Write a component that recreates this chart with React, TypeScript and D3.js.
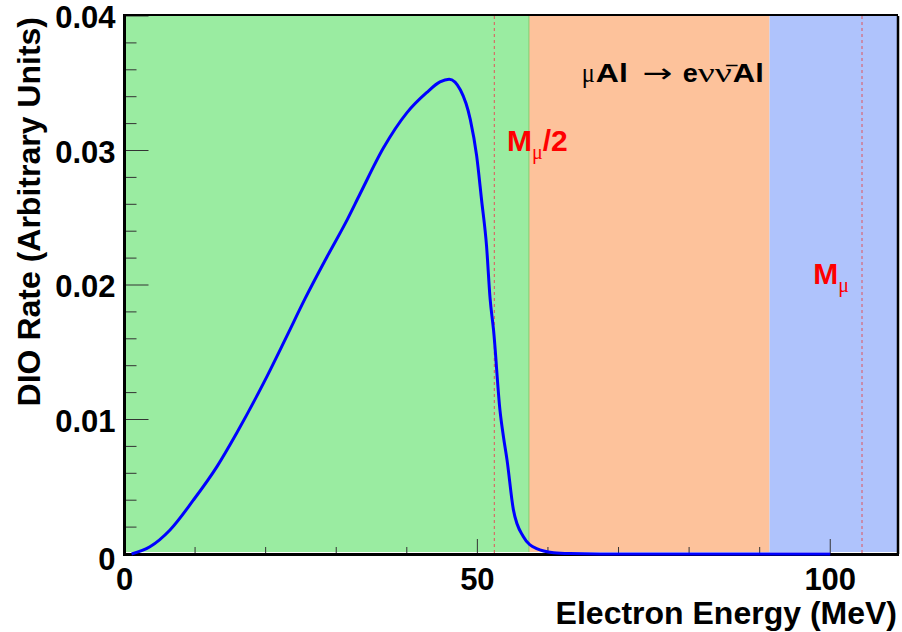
import * as d3 from 'd3';

// DIO spectrum
const energy = [1.0, 3.6, 6.45, 9.75, 13.1, 15.9, 19.7, 23.0, 25.6, 28.7, 31.6, 33.4, 36.7, 40.0, 42.8, 44.7, 46.0, 47.6, 49.0, 49.9, 50.6, 51.3, 51.8, 52.3, 53.2, 53.7, 54.2, 55.1, 56.5, 58.4, 60.8, 63.1, 67.4, 100];
const rate = [0, 0.00054, 0.00179, 0.004, 0.0065, 0.009, 0.0127, 0.0162, 0.019, 0.0221, 0.0249, 0.0268, 0.0302, 0.0328, 0.0343, 0.0351, 0.0353, 0.0345, 0.0323, 0.0296, 0.0263, 0.0229, 0.019, 0.0166, 0.0107, 0.0087, 0.007, 0.0033, 0.0013, 0.0004, 0.0001, 0.00003, 0, 0];

const regionStart = [0, 57.3, 91.4];
const regionEnd = [57.3, 91.4, 109.6];
const regionColors = ['#9aeca1', '#fdc29b', '#afc3fc'];

const markerLines = [52.4, 104.5];

const xMajorTicks = [0, 50, 100];
const yMajorTicks = [0, 0.01, 0.02, 0.03, 0.04];
const yTickLabels = ['0', '0.01', '0.02', '0.03', '0.04'];

// process label pieces: text, font kind, offset from start (px), width (px)
const processText = ['μ', 'Al', '→', 'e', 'νν̄', 'Al'];
const processKind = ['greek', 'bold', 'arrow', 'bold', 'greek', 'bold'];
const processOffset = [0, 14, 61, 101, 116, 151];
const processWidth = [13, 32, 30, 15, 34, 31];

const W = 902;
const H = 632;
const margin = { top: 16, right: 4, bottom: 78, left: 124.5 };
const font = '"Liberation Sans", Arial, sans-serif';
const greek = '"Liberation Serif", "DejaVu Serif", serif';

export default function App(): JSX.Element {
  const x = d3.scaleLinear()
    .domain([0, 109.6])
    .range([margin.left, W - margin.right]);
  const y = d3.scaleLinear()
    .domain([0, 0.04])
    .range([H - margin.bottom, margin.top]);

  const points = energy.map((e, i) => [e, rate[i]] as [number, number]);
  const line = d3.line<[number, number]>()
    .x(d => x(d[0]))
    .y(d => y(d[1]))
    .curve(d3.curveMonotoneX);

  const x0 = x(0);
  const y0 = y(0);
  const xEnd = x(109.6);
  const yTop = y(0.04);

  const xMinor = d3.range(0, 110, 10).filter(t => t % 50 !== 0);
  const yMinor = d3.range(0, 41, 2).map(v => v / 1000).filter((_, i) => i % 5 !== 0);

  const procX = x(64.8);
  const procY = y(0.0351);

  return (
    <svg width={W} height={H} style={{ position: 'absolute', left: 0, top: 0, background: '#fff' }}>
      {regionStart.map((s, i) => (
        <rect
          key={i}
          x={x(s)}
          y={yTop}
          width={x(regionEnd[i]) - x(s)}
          height={y0 - yTop - 2}
          fill={regionColors[i]}
        />
      ))}
      <line x1={x(regionEnd[0])} x2={x(regionEnd[0])} y1={yTop} y2={y0 - 2} stroke="#7ccf6e" strokeWidth={1} />

      {markerLines.map(m => (
        <line key={m} x1={x(m)} x2={x(m)} y1={yTop} y2={y0} stroke="#e0545c" strokeWidth={1} strokeDasharray="3,3" />
      ))}

      {/* ticks */}
      {yMajorTicks.map(t => (
        <line key={'ym' + t} x1={x0} x2={x0 + 24} y1={y(t)} y2={y(t)} stroke="#333" strokeWidth={1} />
      ))}
      {yMinor.map(t => (
        <line key={'yn' + t} x1={x0} x2={x0 + 12} y1={y(t)} y2={y(t)} stroke="#333" strokeWidth={1} />
      ))}
      {xMajorTicks.map(t => (
        <line key={'xm' + t} x1={x(t)} x2={x(t)} y1={y0} y2={y0 - 15} stroke="#333" strokeWidth={1} />
      ))}
      {xMinor.map(t => (
        <line key={'xn' + t} x1={x(t)} x2={x(t)} y1={y0} y2={y0 - 7} stroke="#333" strokeWidth={1} />
      ))}

      {/* frame */}
      <line x1={x0} x2={xEnd} y1={yTop - 1} y2={yTop - 1} stroke="#000" strokeWidth={2} />
      <line x1={xEnd} x2={xEnd} y1={yTop} y2={y0} stroke="#000" strokeWidth={2.5} />
      <line x1={x0} x2={xEnd + 1} y1={y0 + 0.5} y2={y0 + 0.5} stroke="#000" strokeWidth={3} />
      <line x1={x0} x2={x0} y1={yTop - 2} y2={y0 + 2} stroke="#000" strokeWidth={3} />

      <path d={line(points) || ''} fill="none" stroke="#0000ff" strokeWidth={3} />

      {/* tick labels */}
      {yMajorTicks.map((t, i) => (
        <text
          key={'yl' + t}
          x={x0 - 9}
          y={y(t) + 12 + (t === 0 ? 4 : 0)}
          textAnchor="end"
          fontFamily={font}
          fontWeight="bold"
          fontSize={31}
        >
          {yTickLabels[i]}
        </text>
      ))}
      {xMajorTicks.map(t => (
        <text
          key={'xl' + t}
          x={x(t)}
          y={590}
          textAnchor="middle"
          fontFamily={font}
          fontWeight="bold"
          fontSize={31}
        >
          {t}
        </text>
      ))}

      {/* axis titles */}
      <text x={897} y={624} textAnchor="end" fontFamily={font} fontWeight="bold" fontSize={32}>
        Electron Energy (MeV)
      </text>
      <text
        transform={`translate(40,${yTop + 1}) rotate(-90)`}
        textAnchor="end"
        fontFamily={font}
        fontWeight="bold"
        fontSize={32}
      >
        DIO Rate (Arbitrary Units)
      </text>

      {/* annotations */}
      {processText.map((s, i) => (
        <text
          key={'p' + i}
          x={procX + processOffset[i]}
          y={procY}
          textLength={processWidth[i]}
          lengthAdjust="spacingAndGlyphs"
          fontFamily={processKind[i] === 'bold' ? font : processKind[i] === 'arrow' ? '"DejaVu Sans", sans-serif' : greek}
          fontWeight={processKind[i] === 'bold' ? 'bold' : 'normal'}
          fontSize={processKind[i] === 'bold' ? 25 : processKind[i] === 'arrow' ? 26 : 28}
          fill="#000"
        >
          {s}
        </text>
      ))}
      <text x={x(54.2)} y={y(0.0300)} fill="#ff0000" fontFamily={font} fontWeight="bold" fontSize={30}>
        M
        <tspan fontFamily={greek} fontWeight="normal" fontSize={20} dy={8}>μ</tspan>
        <tspan dy={-8}>/2</tspan>
      </text>
      <text x={x(97.6)} y={y(0.0201)} fill="#ff0000" fontFamily={font} fontWeight="bold" fontSize={30}>
        M
        <tspan fontFamily={greek} fontWeight="normal" fontSize={20} dy={8}>μ</tspan>
      </text>
    </svg>
  );
}
